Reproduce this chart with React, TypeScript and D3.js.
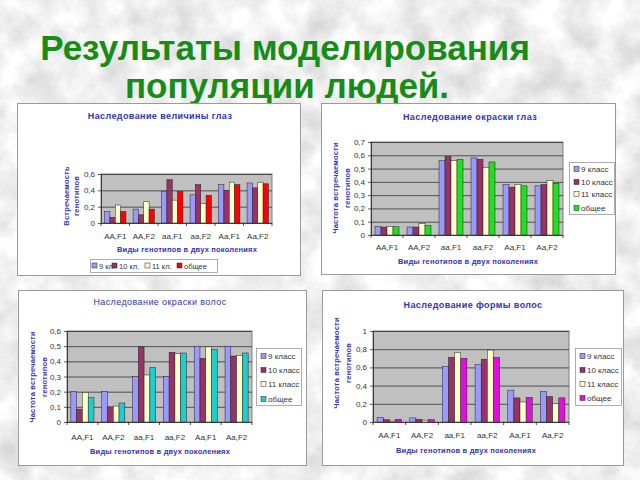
import React from 'react';
import * as d3 from 'd3';

const categories = ['AA,F1', 'AA,F2', 'aa,F1', 'aa,F2', 'Aa,F1', 'Aa,F2'];
const seriesShort = ['9 кл.', '10 кл.', '11 кл.', 'общее'];
const seriesLong = ['9 класс', '10 класс', '11 класс', 'общее'];

// Наследование величины глаз
const eyeSize9 = [0.14, 0.17, 0.39, 0.345, 0.47, 0.49];
const eyeSize10 = [0.07, 0.10, 0.53, 0.47, 0.40, 0.43];
const eyeSize11 = [0.22, 0.26, 0.28, 0.24, 0.50, 0.50];
const eyeSizeAll = [0.14, 0.17, 0.385, 0.34, 0.47, 0.48];

// Наследование окраски глаз
const eyeColor9 = [0.065, 0.06, 0.56, 0.58, 0.38, 0.37];
const eyeColor10 = [0.06, 0.06, 0.59, 0.57, 0.36, 0.38];
const eyeColor11 = [0.065, 0.085, 0.56, 0.51, 0.38, 0.41];
const eyeColorAll = [0.062, 0.07, 0.57, 0.55, 0.37, 0.39];

// Наследование окраски волос
const hairColor9 = [0.20, 0.20, 0.30, 0.30, 0.50, 0.50];
const hairColor10 = [0.085, 0.10, 0.495, 0.46, 0.42, 0.435];
const hairColor11 = [0.195, 0.105, 0.31, 0.45, 0.495, 0.44];
const hairColorAll = [0.16, 0.125, 0.36, 0.455, 0.48, 0.455];

// Наследование формы волос
const hairForm9 = [0.05, 0.045, 0.61, 0.63, 0.35, 0.333];
const hairForm10 = [0.025, 0.03, 0.71, 0.69, 0.265, 0.28];
const hairForm11 = [0.01, 0.02, 0.76, 0.79, 0.22, 0.20];
const hairFormAll = [0.03, 0.025, 0.70, 0.71, 0.27, 0.265];

const C9 = '#9999ff';
const C10 = '#993366';
const C11 = '#ffffcc';

const BLUE = '#3333b8';
const FONT = 'Liberation Sans, Arial, sans-serif';

const fmt = (v: number) => d3.format('.1~f')(v).replace('.', ',');

type Cfg = {
  box: { x: number; y: number; w: number; h: number };
  plot: { l: number; t: number; r: number; b: number };
  title: string; titleX: number; titleY: number; titleBold: boolean;
  yMax: number; yStep: number;
  series: number[][]; colors: string[];
  yTitle: string[]; yTitleX: number[]; yTitleY: number;
  xTitleX: number; xTitleY: number; catY: number;
  legend: any;
};

function BarChart({ cfg }: { cfg: Cfg }) {
  const { box, plot } = cfg;
  const x0 = d3.scaleBand<string>().domain(categories).range([plot.l, plot.r]).paddingInner(0.25).paddingOuter(0.125);
  const x1 = d3.scaleBand<number>().domain(d3.range(cfg.series.length)).range([0, x0.bandwidth()]);
  const y = d3.scaleLinear().domain([0, cfg.yMax]).range([plot.b, plot.t]);
  const ticks = d3.range(0, cfg.yMax + 1e-9, cfg.yStep);
  const step = (plot.r - plot.l) / categories.length;
  const lg = cfg.legend;
  const names = lg.horizontal ? seriesShort : seriesLong;
  return (
    <g>
      <rect x={box.x + 0.5} y={box.y + 0.5} width={box.w} height={box.h} fill="#ffffff" stroke="#9a9a9a" strokeWidth={1} />
      <text x={cfg.titleX} y={cfg.titleY} textAnchor="middle" fontFamily={FONT} fontSize={9} fontWeight={cfg.titleBold ? 'bold' : 'normal'} fill={BLUE} letterSpacing={0.4}>{cfg.title}</text>
      <rect x={plot.l} y={plot.t} width={plot.r - plot.l} height={plot.b - plot.t} fill="#c0c0c0" stroke="#808080" strokeWidth={1} />
      {ticks.map((t, i) => (
        <g key={i}>
          {t > 0 && <line x1={plot.l} x2={plot.r} y1={y(t) + 0.5} y2={y(t) + 0.5} stroke="#333" strokeWidth={0.8} />}
          <line x1={plot.l - 3} x2={plot.l} y1={y(t) + 0.5} y2={y(t) + 0.5} stroke="#333" strokeWidth={0.8} />
          <text x={plot.l - 6} y={y(t) + 3} textAnchor="end" fontFamily={FONT} fontSize={8} fill="#333">{fmt(t)}</text>
        </g>
      ))}
      {cfg.series.map((s, si) => s.map((v, ci) => (
        <rect key={si + '-' + ci} x={(x0(categories[ci]) as number) + (x1(si) as number)} y={y(v)} width={x1.bandwidth()} height={plot.b - y(v)} fill={cfg.colors[si]} stroke="#222" strokeWidth={0.5} />
      )))}
      <line x1={plot.l + 0.5} x2={plot.l + 0.5} y1={plot.t} y2={plot.b} stroke="#222" strokeWidth={0.8} />
      <line x1={plot.l} x2={plot.r} y1={plot.b + 0.5} y2={plot.b + 0.5} stroke="#222" strokeWidth={0.8} />
      {d3.range(categories.length + 1).map(i => (
        <line key={'ct' + i} x1={plot.l + i * step} x2={plot.l + i * step} y1={plot.b} y2={plot.b + 3} stroke="#222" strokeWidth={0.8} />
      ))}
      {categories.map(c => (
        <text key={c} x={(x0(c) as number) + x0.bandwidth() / 2} y={cfg.catY} textAnchor="middle" fontFamily={FONT} fontSize={8} fill="#333">{c}</text>
      ))}
      <text x={cfg.xTitleX} y={cfg.xTitleY} textAnchor="middle" fontFamily={FONT} fontSize={7.5} fontWeight="bold" fill={BLUE} letterSpacing={0.2}>Виды генотипов в двух поколениях</text>
      {cfg.yTitle.map((t, i) => (
        <text key={t} transform={`translate(${cfg.yTitleX[i]},${cfg.yTitleY}) rotate(-90)`} textAnchor="middle" fontFamily={FONT} fontSize={7.5} fontWeight="bold" fill={BLUE} letterSpacing={0.2}>{t}</text>
      ))}
      <rect x={lg.x + 0.5} y={lg.y + 0.5} width={lg.w} height={lg.h} fill="#fff" stroke="#9a9a9a" strokeWidth={0.8} />
      {names.map((n, i) => {
        const ix = lg.horizontal ? lg.itemX[i] : lg.x + 5;
        const iy = lg.horizontal ? lg.y + lg.h / 2 : lg.itemY[i];
        return (
          <g key={n}>
            <rect x={ix} y={iy - 2.5} width={5} height={5} fill={cfg.colors[i]} stroke="#222" strokeWidth={0.5} />
            <text x={ix + 7} y={iy + 3} fontFamily={FONT} fontSize={lg.horizontal ? 7.5 : 8} fill="#333">{n}</text>
          </g>
        );
      })}
    </g>
  );
}

const charts: Cfg[] = [
  {
    box: { x: 17, y: 103, w: 283, h: 172 },
    plot: { l: 101, t: 174, r: 272, b: 223 },
    title: 'Наследование величины глаз', titleX: 160, titleY: 119, titleBold: true,
    yMax: 0.6, yStep: 0.2,
    series: [eyeSize9, eyeSize10, eyeSize11, eyeSizeAll], colors: [C9, C10, C11, '#ff0000'],
    yTitle: ['Встречаемость', 'генотипов'], yTitleX: [69, 79], yTitleY: 196,
    xTitleX: 187, xTitleY: 252, catY: 239,
    legend: { horizontal: true, x: 90, y: 259, w: 127, h: 13, itemX: [92, 112, 145, 177] },
  },
  {
    box: { x: 321, y: 103, w: 294, h: 171 },
    plot: { l: 371, t: 142, r: 563, b: 235 },
    title: 'Наследование окраски глаз', titleX: 470, titleY: 120, titleBold: true,
    yMax: 0.7, yStep: 0.1,
    series: [eyeColor9, eyeColor10, eyeColor11, eyeColorAll], colors: [C9, C10, C11, '#22dd22'],
    yTitle: ['Частота встречаемости', 'генотипов'], yTitleX: [338, 350], yTitleY: 188,
    xTitleX: 468, xTitleY: 264, catY: 250,
    legend: { horizontal: false, x: 569, y: 162, w: 45, h: 52, itemY: [169, 182, 194, 208] },
  },
  {
    box: { x: 18, y: 290, w: 288, h: 175 },
    plot: { l: 67, t: 331, r: 252, b: 422 },
    title: 'Наследование окраски волос', titleX: 160, titleY: 305, titleBold: false,
    yMax: 0.6, yStep: 0.1,
    series: [hairColor9, hairColor10, hairColor11, hairColorAll], colors: [C9, C10, C11, '#22cccc'],
    yTitle: ['Частота встречаемости', 'генотипов'], yTitleX: [35, 47], yTitleY: 377,
    xTitleX: 160, xTitleY: 454, catY: 440,
    legend: { horizontal: false, x: 256, y: 348, w: 45, h: 57, itemY: [356, 370, 384, 399] },
  },
  {
    box: { x: 322, y: 290, w: 301, h: 175 },
    plot: { l: 373, t: 331, r: 569, b: 422 },
    title: 'Наследование формы волос', titleX: 473, titleY: 308, titleBold: true,
    yMax: 1, yStep: 0.2,
    series: [hairForm9, hairForm10, hairForm11, hairFormAll], colors: [C9, C10, C11, '#e010d8'],
    yTitle: ['Частота встречаемости', 'генотипов'], yTitleX: [339, 351], yTitleY: 363,
    xTitleX: 466, xTitleY: 453, catY: 438,
    legend: { horizontal: false, x: 575, y: 348, w: 46, h: 57, itemY: [356, 370, 384, 398] },
  },
];

export default function App() {
  return (
    <svg width={640} height={480} viewBox="0 0 640 480" style={{ position: 'fixed', left: 0, top: 0 }}>
      <defs>
        <filter id="marble" x="0" y="0" width="100%" height="100%">
          <feTurbulence type="fractalNoise" baseFrequency="0.03" numOctaves={4} seed={7} />
          <feColorMatrix type="matrix" values="0 0 0 0 1  0 0 0 0 1  0 0 0 0 1  1.8 0 0 0 -0.3" />
        </filter>
      </defs>
      <rect width={640} height={480} fill="#d8d8d8" />
      <rect width={640} height={480} filter="url(#marble)" />
      <text x={285} y={60} textAnchor="middle" fontFamily={FONT} fontSize={35} fontWeight="bold" fill="#178c17">Результаты моделирования</text>
      <text x={287} y={98} textAnchor="middle" fontFamily={FONT} fontSize={35} fontWeight="bold" fill="#178c17">популяции людей.</text>
      {charts.map((c, i) => <BarChart key={i} cfg={c} />)}
    </svg>
  );
}
